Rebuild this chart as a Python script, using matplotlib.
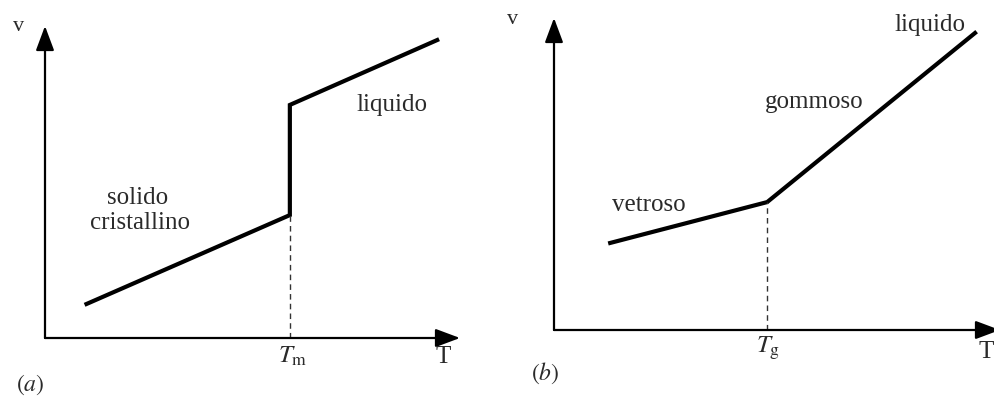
import matplotlib
matplotlib.use("Agg")
import matplotlib.pyplot as plt

plt.rcParams["font.family"] = ["Liberation Serif", "DejaVu Serif"]
plt.rcParams["mathtext.fontset"] = "stix"

# (a) crystalline solid: volume vs temperature with a jump at Tm
T_cryst = [1.0, 5.9, 5.9, 9.45]
V_cryst = [1.09, 3.94, 7.47, 9.55]
Tm = 5.9

# (b) amorphous polymer: change of slope at Tg
T_amorph = [1.26, 4.78, 9.44]
V_amorph = [2.79, 4.10, 9.52]
Tg = 4.78

labels_a = [("solido", 2.24, 4.49), ("cristallino", 2.29, 3.69), ("liquido", 8.36, 7.47)]
labels_b = [("vetroso", 2.13, 4.01), ("gommoso", 5.83, 7.31), ("liquido", 8.43, 9.78)]

W, H = 994, 396
fig = plt.figure(figsize=(W / 100, H / 100), dpi=100)

def make_axes(left, right, bottom, top):
    ax = fig.add_axes([left / W, 1 - bottom / H, (right - left) / W, (bottom - top) / H])
    ax.set_xlim(0, 10)
    ax.set_ylim(0, 10)
    ax.axis("off")
    return ax

FS = 18
TXT = "#2a2a2a"

def draw_frame(ax, tmark, tlabel, panel, pan_xy, v_xy, t_xy):
    arrow = dict(arrowstyle="-|>,head_length=0.75,head_width=0.28", color="black",
                 lw=1.6, shrinkA=0, shrinkB=0, mutation_scale=20)
    ax.annotate("", xy=(10, 0), xytext=(0, 0), arrowprops=arrow, annotation_clip=False)
    ax.annotate("", xy=(0, 10), xytext=(0, 0), arrowprops=arrow, annotation_clip=False)
    ax.text(*v_xy, "v", fontsize=FS - 2, ha="center", va="center", color=TXT, clip_on=False)
    ax.text(*t_xy, "T", fontsize=FS, ha="center", va="center", color=TXT, clip_on=False)
    ax.text(tmark, -0.6, tlabel, fontsize=FS, ha="center", va="center", color=TXT, clip_on=False)
    ax.text(*pan_xy, panel, fontsize=FS - 1, ha="center", va="center", color=TXT, clip_on=False)

# panel (a)
ax_a = make_axes(45, 460, 338, 26)
ax_a.plot(T_cryst, V_cryst, color="black", lw=3.0, solid_joinstyle="miter", clip_on=False)
ax_a.plot([Tm, Tm], [0, V_cryst[1]], color="#333333", lw=1.0, ls=(0, (4, 3)))
draw_frame(ax_a, Tm + 0.08, r"$T_\mathrm{m}$", r"$(a)$", (-0.36, -1.51), (-0.63, 9.97), (9.59, -0.62))
for s, x, y in labels_a:
    ax_a.text(x, y, s, fontsize=FS, ha="center", va="center", color=TXT)

# panel (b)
ax_b = make_axes(554, 1000, 330, 18)
ax_b.plot(T_amorph, V_amorph, color="black", lw=3.0, solid_joinstyle="miter", clip_on=False)
ax_b.plot([Tg, Tg], [0, V_amorph[1]], color="#333333", lw=1.0, ls=(0, (4, 3)))
draw_frame(ax_b, Tg + 0.02, r"$T_\mathrm{g}$", r"$(b)$", (-0.2, -1.38), (-0.94, 9.94), (9.7, -0.71))
for s, x, y in labels_b:
    ax_b.text(x, y, s, fontsize=FS, ha="center", va="center", color=TXT, clip_on=False)

fig.savefig("out.png", dpi=100, facecolor="white")
